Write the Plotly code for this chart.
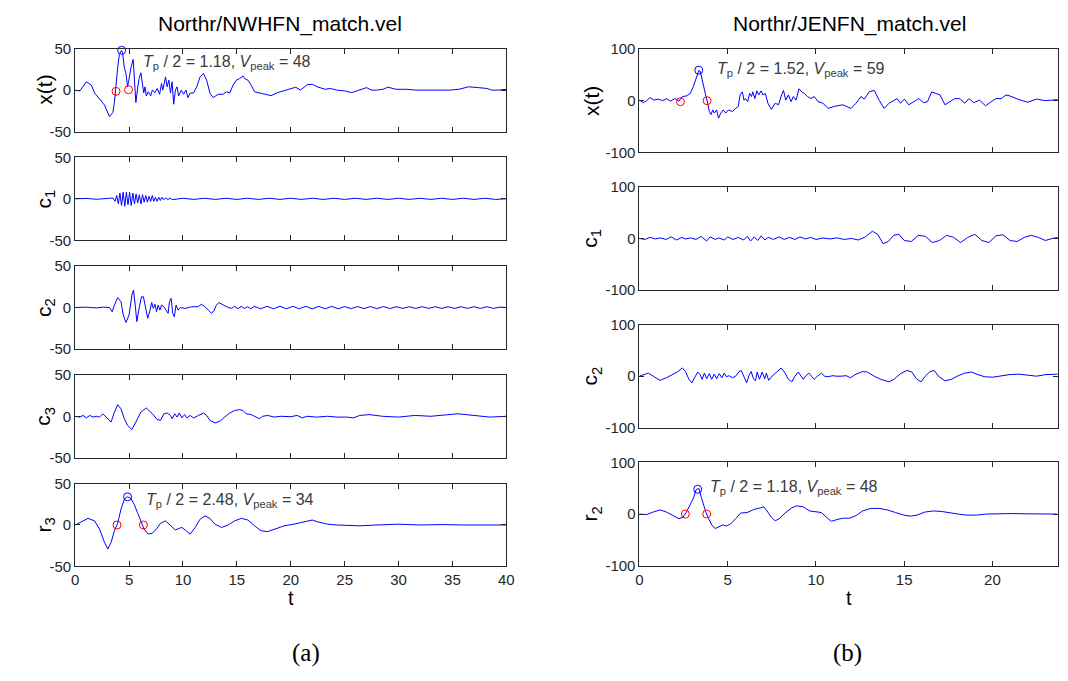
import plotly.graph_objects as go

W, H = 1068, 681

# ---------------- (a) Northr/NWHFN_match.vel : (t, value) ----------------
a_xt = [(0, 0), (0.43, -1), (1.04, 10), (1.5, 6), (1.8, -3.5), (2.26, -11), (2.72, -18), (3.18, -32),
        (3.49, -27), (3.64, -15), (3.79, 8), (3.94, 27), (4.1, 43), (4.3, 48), (4.4, 45), (4.56, 27),
        (4.71, 20), (4.86, 4), (4.95, 10), (5.17, 27), (5.38, 37), (5.5, 12), (5.63, -15), (5.81, 4),
        (5.93, 14), (6.09, 21), (6.24, 8), (6.36, -3.5), (6.48, 4), (6.6, -7), (6.79, -2), (7.0, -7),
        (7.16, 0), (7.4, -3), (7.61, 2), (7.83, -5), (8.01, 8), (8.13, 0), (8.38, 16), (8.53, 4),
        (8.69, 12), (8.84, -3.5), (8.99, 10), (9.14, -17), (9.3, 0), (9.45, 4), (9.6, -7), (9.85, 0),
        (10.06, -5), (10.28, 0), (10.46, -9), (10.67, -3.5), (10.98, -3.5), (11.28, 4), (11.59, 16),
        (11.9, 20), (12.2, 12), (12.5, -3.5), (12.8, -9), (13.27, -5), (13.73, -5), (14.04, -2),
        (14.34, -3.5), (14.65, 6), (14.95, 12), (15.26, 14), (15.57, 17), (15.72, 14), (16.02, 12),
        (16.33, 6), (16.64, -2), (17.1, -3.5), (17.55, -5), (18.17, -6.6), (18.78, -3), (19.69, 1),
        (20.46, 3.5), (20.9, 0), (21.53, 6.6), (21.99, 7), (22.45, 4), (23.21, 1), (23.67, 2),
        (24.28, 0), (25.05, -1), (25.66, -3), (26.27, 0), (27.03, 3), (27.49, 0), (27.95, 0),
        (28.56, 1), (29.02, 3.5), (29.79, 1), (30.7, 1), (31.62, 0), (32.54, 0), (33.46, -0.5),
        (34.7, 0), (35.6, 1), (36.5, 4), (37.43, 3), (38.2, 2), (38.65, 0), (39.27, 0), (40, 1)]

a_c1 = [(0, 0), (1, 0.5), (2, -0.5), (3, 0.5), (3.5, 1), (3.7, -3), (3.85, 4), (4.0, -6), (4.15, 7),
        (4.3, -8), (4.45, 8), (4.6, -9), (4.75, 8), (4.9, -7), (5.05, 8), (5.2, -8), (5.35, 7),
        (5.5, -6), (5.65, 6), (5.8, -5), (5.95, 5), (6.1, -6), (6.25, 5), (6.4, -4), (6.55, 4),
        (6.7, -4), (6.85, 3), (7.0, -3), (7.15, 4), (7.3, -3), (7.45, 2), (7.6, -3), (7.75, 2),
        (7.9, -2), (8.05, 2), (8.2, -1), (8.4, 1), (8.6, -1), (8.8, 1), (9.0, -1), (10, 0.7),
        (11, -0.7), (12, 0.7), (13, -0.7), (14, 0.7), (15, -0.7), (16, 0.7), (17, -0.7), (18, 0.7),
        (19, -0.7), (20, 0.7), (21, -0.7), (22, 0.7), (23, -0.7), (24, 0.7), (25, -0.7), (26, 0.7),
        (27, -0.7), (28, 0.7), (29, -0.7), (30, 0.7), (31, -0.7), (32, 0.7), (33, -0.7), (34, 0.7),
        (35, -0.7), (36, 0.7), (37, -0.7), (38, 0.7), (39, -0.7), (40, 0)]

a_c2 = [(0, 0), (1, 0.5), (2, -0.5), (2.6, 0.5), (3.18, 0), (3.43, -5), (3.64, 3), (3.94, 12),
        (4.25, 7), (4.46, -9), (4.71, -18), (5.0, -9), (5.26, 15), (5.41, 21), (5.57, 3), (5.72, -17),
        (5.93, -1), (6.15, 13), (6.33, 13), (6.54, -1), (6.73, -13), (6.91, -5), (7.1, 6), (7.25, -1),
        (7.4, 4), (7.55, -5), (7.7, 3), (7.86, -3), (8.01, 3), (8.23, 1), (8.44, -3), (8.62, -7),
        (8.75, 7), (8.9, 11), (9.05, -7), (9.2, -11), (9.36, 3), (9.54, -3), (9.76, 0), (10.2, -1),
        (10.8, 1), (11.4, 1), (11.7, 4), (12.05, 1), (12.35, -3), (12.66, -7), (12.9, -3), (13.1, 3),
        (13.33, 6), (13.7, 3), (14.2, 0), (14.5, -1), (14.8, 1.5), (15.1, -1.5), (15.4, 1.5),
        (15.7, -1), (16.0, 1), (16.3, -1.5), (16.6, 1.5), (17.2, -1.5), (17.8, 1.5), (18.4, -1.5),
        (19.0, 1.5), (19.6, -1.5), (20.2, 1.5), (20.8, -1.5), (21.4, 1.5), (22.0, -1.5), (22.6, 1.5),
        (23.2, -1.5), (23.8, 1.5), (24.4, -1.5), (25, 1.2), (25.6, -1.2), (26.2, 1.2), (26.8, -1.2),
        (27.4, 1.2), (28, -1.2), (28.6, 1.2), (29.2, -1.2), (29.8, 1), (30.4, -1), (31, 1),
        (31.6, -1), (32.2, 1), (32.8, -1), (33.4, 1), (34, -1), (34.6, 1), (35.2, -1), (35.8, 1),
        (36.4, -1), (37, 1), (37.6, -1), (38.2, 1), (38.8, -1), (39.4, 0.5), (40, 0)]

a_c3 = [(0, 0), (0.43, -1), (0.73, 1), (1.04, -2), (1.35, 1), (1.65, -1), (1.96, 0), (2.26, -1),
        (2.57, 3), (2.87, -1), (3.33, -7), (3.64, 5), (3.94, 14), (4.25, 9), (4.56, -3), (4.86, -11),
        (5.25, -16), (5.63, -7), (6.09, 5), (6.6, 10), (7.16, 3), (7.61, -4), (7.92, -5), (8.23, 3),
        (8.53, 4), (8.84, 1), (8.99, -3), (9.24, 3), (9.45, -1), (9.66, 4), (9.9, -2), (10.15, 2),
        (10.37, -2), (10.67, 1), (10.98, -2), (11.44, 1), (11.9, 4), (12.2, 1), (12.5, -5),
        (12.97, -8), (13.43, -6), (13.88, -1), (14.34, 4), (14.8, 7), (15.26, 8), (15.57, 7),
        (15.87, 3), (16.33, 2), (16.79, -1), (17.1, -3), (17.4, 0), (17.86, 1), (18.47, -1),
        (19.08, 0), (20.0, -0.5), (20.6, 1), (21.07, -2), (21.5, 0), (22.4, -1), (23.4, 0),
        (24.3, -1), (25.2, -1), (25.8, -2), (26.4, 1), (27.3, 2), (28.5, 0), (30, -1), (31.5, 1),
        (33, 0), (34.5, 2), (35.5, 3), (37, 1), (38.5, -1), (40, 0)]

a_r3 = [(0, 0), (0.58, 4), (1.19, 8), (1.8, 5), (2.26, -5), (2.72, -21), (3.03, -29), (3.33, -21),
        (3.64, -7), (3.94, 2), (4.25, 19), (4.56, 31), (4.86, 34), (5.17, 32), (5.47, 25), (5.78, 15),
        (6.09, 5), (6.39, -5), (6.79, -11), (7.16, -10), (7.52, -5), (7.92, 2), (8.38, 5), (8.84, 0),
        (9.3, -6), (9.66, -4), (9.9, -3), (10.2, -6), (10.67, -11), (11.13, -3), (11.59, 7),
        (12.05, 11), (12.5, 8), (12.97, 1), (13.58, -3), (14.19, 0), (14.8, 5), (15.41, 8),
        (16.02, 6), (16.64, -1), (17.25, -7), (17.86, -8), (18.47, -5), (19.39, -1), (20.3, 1),
        (21.2, 4), (21.99, 6), (22.45, 4), (23.4, 1), (24.3, 0), (25.5, -1), (26.4, -1), (28, 0),
        (30, 1), (32, 0), (34, 0.5), (36, 0), (38, 0), (40, 0)]

a_xt_zero = [(3.79, -1.5), (4.95, 0.5)]
a_xt_peak = [(4.31, 48)]
a_r3_zero = [(3.88, 0), (6.33, 0)]
a_r3_peak = [(4.86, 34)]

# ---------------- (b) Northr/JENFN_match.vel : (t, value) ----------------
b_xt = [(0, 1), (0.22, -4), (0.41, 0), (0.6, 6), (0.82, 1), (1.06, 3), (1.31, 0), (1.53, 4),
        (1.76, -1), (2.0, 4), (2.24, -1), (2.43, 8), (2.65, 9), (2.88, 14), (3.06, 28), (3.21, 43),
        (3.36, 58), (3.44, 57), (3.55, 39), (3.64, 23), (3.77, 8), (3.87, -5), (3.96, -21),
        (4.05, -27), (4.15, -18), (4.24, -24), (4.37, -18), (4.48, -34), (4.61, -24), (4.74, -18),
        (4.89, -24), (5.04, -18), (5.27, -21), (5.45, -15), (5.6, -11), (5.7, 11), (5.83, 17),
        (5.92, 1), (6.01, 4), (6.13, -2), (6.24, 14), (6.35, 8), (6.42, 17), (6.54, 4), (6.65, 19),
        (6.76, 11), (6.89, 19), (7.0, 11), (7.13, 14), (7.28, -5), (7.47, -17), (7.69, -5),
        (7.88, -8), (8.03, 9), (8.16, 20), (8.29, 1), (8.44, 11), (8.59, -2), (8.72, 8), (8.87, 1),
        (9.04, 23), (9.19, 17), (9.34, 14), (9.52, 8), (9.71, 4), (9.9, 8), (10.12, -2), (10.4, -5),
        (10.68, -15), (11.06, -11), (11.52, -8), (11.99, -15), (12.27, -5), (12.55, 8), (12.74, 3),
        (13.02, 17), (13.3, 20), (13.58, 1), (13.86, -15), (14.14, -5), (14.42, 1), (14.6, 4),
        (14.79, -5), (15.01, 3), (15.26, -8), (15.54, -2), (15.82, 4), (16.1, -4), (16.32, -2),
        (16.56, 17), (16.75, 14), (17.03, 11), (17.31, -8), (17.59, -2), (17.87, 4), (18.15, 4),
        (18.43, -5), (18.67, 4), (18.94, -4), (19.27, 1), (19.61, -10), (19.93, -2), (20.2, 4),
        (20.5, 4), (20.77, 11), (21.0, 9), (21.5, 2), (22, -3), (22.5, 3), (23, 0), (23.7, 2)]

b_c1 = [(0, 0), (0.3, -2), (0.6, 2), (0.9, -1), (1.2, 1), (1.5, -2), (1.8, 3), (2.1, -3), (2.4, 2),
        (2.6, -1), (2.9, 1), (3.2, -2), (3.5, 4), (3.8, -5), (4.0, 3), (4.3, -2), (4.5, 1), (4.8, -3),
        (5.0, 3), (5.3, -2), (5.6, 2), (5.9, -3), (6.1, 4), (6.3, -5), (6.5, 3), (6.7, -4), (6.9, 5),
        (7.1, -3), (7.3, 2), (7.6, -2), (7.9, 3), (8.2, -2), (8.5, 2), (8.8, -2), (9.1, 3), (9.4, -1),
        (9.7, 2), (10.0, -2), (10.4, 1), (10.8, -1), (11.2, 1), (11.6, -2), (12.0, 0), (12.4, -3),
        (12.8, 3), (13.2, 14), (13.5, 8), (13.8, -10), (14.1, -6), (14.4, 6), (14.7, 8), (15.0, -4),
        (15.4, -6), (15.8, 6), (16.2, 4), (16.6, -8), (17.0, -4), (17.4, 6), (17.8, 2), (18.2, -8),
        (18.6, 2), (19.0, 8), (19.4, -4), (19.8, -8), (20.2, 5), (20.6, 7), (21.0, -4), (21.4, -6),
        (21.8, 2), (22.2, 6), (22.6, 2), (23.0, -4), (23.4, 0), (23.7, 2)]

b_c2 = [(0, 0), (0.22, 3), (0.5, 6), (0.78, 0), (1.16, -8), (1.53, -3), (1.9, 3), (2.18, 9),
        (2.43, 16), (2.61, 9), (2.8, -6), (2.97, -13), (3.12, -3), (3.3, 8), (3.44, 3), (3.55, -6),
        (3.68, 6), (3.81, -5), (3.96, 5), (4.09, -6), (4.24, 4), (4.37, -5), (4.52, 5), (4.67, -3),
        (4.8, 6), (4.93, -1), (5.08, 1), (5.27, -3), (5.45, 0), (5.64, 9), (5.77, 11), (5.92, -3),
        (6.07, -13), (6.2, 1), (6.33, 9), (6.46, -5), (6.57, -9), (6.67, 8), (6.8, -6), (6.95, 8),
        (7.1, -5), (7.19, 6), (7.32, -8), (7.51, 0), (7.79, 8), (8.03, 16), (8.25, 6), (8.44, -6),
        (8.63, -11), (8.81, 0), (9.0, 8), (9.15, 1), (9.28, -6), (9.41, 0), (9.6, 6), (9.75, 0),
        (9.9, -6), (10.08, 0), (10.31, 6), (10.49, 0), (10.68, -1), (10.96, 1), (11.15, 0),
        (11.43, 0), (11.71, 1), (11.95, -3), (12.27, 4), (12.64, 9), (12.92, 8), (13.3, 0),
        (13.67, -6), (14.14, -11), (14.42, -6), (14.79, 5), (15.16, 11), (15.44, 8), (15.69, -5),
        (15.95, -11), (16.19, 0), (16.47, 9), (16.7, 11), (16.94, 0), (17.31, -9), (17.68, -6),
        (18.06, 1), (18.43, 6), (18.8, 8), (19.18, 3), (19.55, -1), (20.02, -2), (20.49, 1),
        (20.95, 3), (21.5, 4), (22, 2), (22.5, 0), (23, 3), (23.7, 4)]

b_r2 = [(0, 0), (0.41, -1), (0.78, 4), (1.16, 8), (1.53, 4), (1.9, -3), (2.24, -9), (2.47, -6),
        (2.65, 3), (2.84, 16), (3.06, 31), (3.21, 47), (3.36, 50), (3.49, 34), (3.62, 19), (3.77, 3),
        (3.92, -9), (4.11, -22), (4.3, -28), (4.48, -25), (4.71, -21), (4.93, -23), (5.17, -19),
        (5.45, -9), (5.73, 2), (6.11, 3), (6.48, 9), (6.85, 12), (7.04, 14), (7.23, 6), (7.47, -6),
        (7.69, -13), (7.92, -9), (8.25, 2), (8.63, 12), (8.91, 16), (9.28, 14), (9.65, 6),
        (10.03, 4), (10.31, 3), (10.59, -6), (10.87, -14), (11.15, -11), (11.52, -8), (11.9, -8),
        (12.27, -3), (12.64, 6), (13.11, 11), (13.58, 11), (14.04, 8), (14.51, 3), (14.98, -2),
        (15.35, -4), (15.72, -2), (16.19, 4), (16.66, 6), (17.12, 5), (17.59, 2), (18.06, 0),
        (18.52, -2), (19.08, -2), (19.64, 0), (20.39, 1), (21.14, 1), (21.89, 0.5), (22.63, 0),
        (23.66, 0)]

b_xt_zero = [(2.32, -2), (3.83, 0)]
b_xt_peak = [(3.36, 59)]
b_r2_zero = [(2.6, 0), (3.81, 0)]
b_r2_peak = [(3.3, 48)]

a_ylabels = ['x(t)', 'c<sub>1</sub>', 'c<sub>2</sub>', 'c<sub>3</sub>', 'r<sub>3</sub>']
b_ylabels = ['x(t)', 'c<sub>1</sub>', 'c<sub>2</sub>', 'r<sub>2</sub>']
a_xticks = [0, 5, 10, 15, 20, 25, 30, 35, 40]
b_xticks = [0, 5, 10, 15, 20]
a_yticks = [-50, 0, 50]
b_yticks = [-100, 0, 100]
a_xrange = [0, 40]
b_xrange = [0, 23.7]
titles = ['Northr/NWHFN_match.vel', 'Northr/JENFN_match.vel']
panel_tags = ['(a)', '(b)']
# (Tp/2, Vpeak) notes
a_note_xt = ('1.18', '48')
a_note_r3 = ('2.48', '34')
b_note_xt = ('1.52', '59')
b_note_r2 = ('1.18', '48')

# ---------------- layout geometry (pixels) ----------------
L_TOPS = [40.7, 152.2, 263.7, 375.2, 486.7]
L_H = 85
R_TOPS = [41, 182.3, 323.6, 465]
R_H = 106
LX = (72, 508)
RX = (642.7, 1065.7)

AX_COLOR = '#262626'
LINE_BLUE = '#0000FF'
FONT = 'Liberation Sans, Arial, sans-serif'


def unzip(p):
    return [a for a, b in p], [b for a, b in p]


def px(x):
    return x / W


def py(y):
    return 1 - y / H


fig = go.Figure()
layout = dict(width=W, height=H, autosize=False, margin=dict(l=0, r=0, t=0, b=0),
              paper_bgcolor='white', plot_bgcolor='white', showlegend=False,
              font=dict(family=FONT, color=AX_COLOR))
annotations = []

panels = []
a_series = [a_xt, a_c1, a_c2, a_c3, a_r3]
b_series = [b_xt, b_c1, b_c2, b_r2]
for i, s in enumerate(a_series):
    panels.append(dict(data=s, top=L_TOPS[i], h=L_H, xd=LX, xr=a_xrange, xt=a_xticks,
                       yt=a_yticks, label=a_ylabels[i], bottom=(i == len(a_series) - 1),
                       lab_x=41))
for i, s in enumerate(b_series):
    panels.append(dict(data=s, top=R_TOPS[i], h=R_H, xd=RX, xr=b_xrange, xt=b_xticks,
                       yt=b_yticks, label=b_ylabels[i], bottom=(i == len(b_series) - 1),
                       lab_x=594))

for k, p in enumerate(panels, start=1):
    xa = 'xaxis' if k == 1 else f'xaxis{k}'
    ya = 'yaxis' if k == 1 else f'yaxis{k}'
    xr = 'x' if k == 1 else f'x{k}'
    yr = 'y' if k == 1 else f'y{k}'
    common = dict(showline=True, mirror='ticks', linecolor=AX_COLOR, linewidth=1,
                  ticks='inside', ticklen=5, tickcolor=AX_COLOR, tickwidth=1,
                  showgrid=False, zeroline=False, fixedrange=True,
                  tickfont=dict(family=FONT, size=15, color=AX_COLOR))
    layout[xa] = dict(common, domain=[px(p['xd'][0]), px(p['xd'][1])], range=p['xr'],
                      tickvals=p['xt'], ticktext=[str(v) for v in p['xt']],
                      showticklabels=p['bottom'], anchor=yr)
    layout[ya] = dict(common, domain=[py(p['top'] + p['h']), py(p['top'])],
                      range=[p['yt'][0], p['yt'][-1]], tickvals=p['yt'],
                      ticktext=[str(v) for v in p['yt']], anchor=xr)
    t, v = unzip(p['data'])
    fig.add_trace(go.Scatter(x=t, y=v, mode='lines', xaxis=xr, yaxis=yr,
                             line=dict(color=LINE_BLUE, width=1), hoverinfo='skip'))
    annotations.append(dict(text=p['label'], x=px(p['lab_x']), y=py(p['top'] + p['h'] / 2),
                            xref='paper', yref='paper', showarrow=False, textangle=-90,
                            xanchor='center', yanchor='middle',
                            font=dict(family=FONT, size=21, color='black')))

# markers and notes
marks = [
    (1, a_xt_zero, a_xt_peak, a_note_xt, 6.1, 33),
    (5, a_r3_zero, a_r3_peak, a_note_r3, 6.4, 29),
    (6, b_xt_zero, b_xt_peak, b_note_xt, 4.3, 60),
    (9, b_r2_zero, b_r2_peak, b_note_r2, 3.86, 52),
]
for k, zero, peak, note, nx, ny in marks:
    xr = 'x' if k == 1 else f'x{k}'
    yr = 'y' if k == 1 else f'y{k}'
    zt, zv = unzip(zero)
    fig.add_trace(go.Scatter(x=zt, y=zv, mode='markers', xaxis=xr, yaxis=yr, cliponaxis=False,
                             marker=dict(symbol='circle-open', size=8, color='#FF0000',
                                         line=dict(width=1, color='#FF0000')), hoverinfo='skip'))
    pt, pv = unzip(peak)
    fig.add_trace(go.Scatter(x=pt, y=pv, mode='markers', xaxis=xr, yaxis=yr, cliponaxis=False,
                             marker=dict(symbol='circle-open', size=8, color=LINE_BLUE,
                                         line=dict(width=1, color=LINE_BLUE)), hoverinfo='skip'))
    txt = f'<i>T</i><sub>p</sub> / 2 = {note[0]}, <i>V</i><sub>peak</sub> = {note[1]}'
    annotations.append(dict(text=txt, x=nx, y=ny, xref=xr, yref=yr, showarrow=False,
                            xanchor='left', yanchor='middle',
                            font=dict(family=FONT, size=16, color='#3a3a3a')))

# titles, x labels, panel tags
for (x0, x1), title, tx in [(LX, titles[0], 279), (RX, titles[1], 855)]:
    annotations.append(dict(text=title, x=px(tx), y=py(15), xref='paper', yref='paper',
                            showarrow=False, xanchor='center', yanchor='middle',
                            font=dict(family=FONT, size=21, color='black')))
    annotations.append(dict(text='t', x=px((x0 + x1) / 2), y=py(604), xref='paper', yref='paper',
                            showarrow=False, xanchor='center', yanchor='middle',
                            font=dict(family=FONT, size=20, color='black')))
annotations.append(dict(text=panel_tags[0], x=px(305), y=py(661), xref='paper', yref='paper',
                        showarrow=False, xanchor='center', yanchor='middle',
                        font=dict(family='Liberation Serif, Times New Roman, serif', size=25, color='black')))
annotations.append(dict(text=panel_tags[1], x=px(853), y=py(661), xref='paper', yref='paper',
                        showarrow=False, xanchor='center', yanchor='middle',
                        font=dict(family='Liberation Serif, Times New Roman, serif', size=25, color='black')))

layout['annotations'] = annotations
fig.update_layout(**layout)
fig.write_html('out.html')
